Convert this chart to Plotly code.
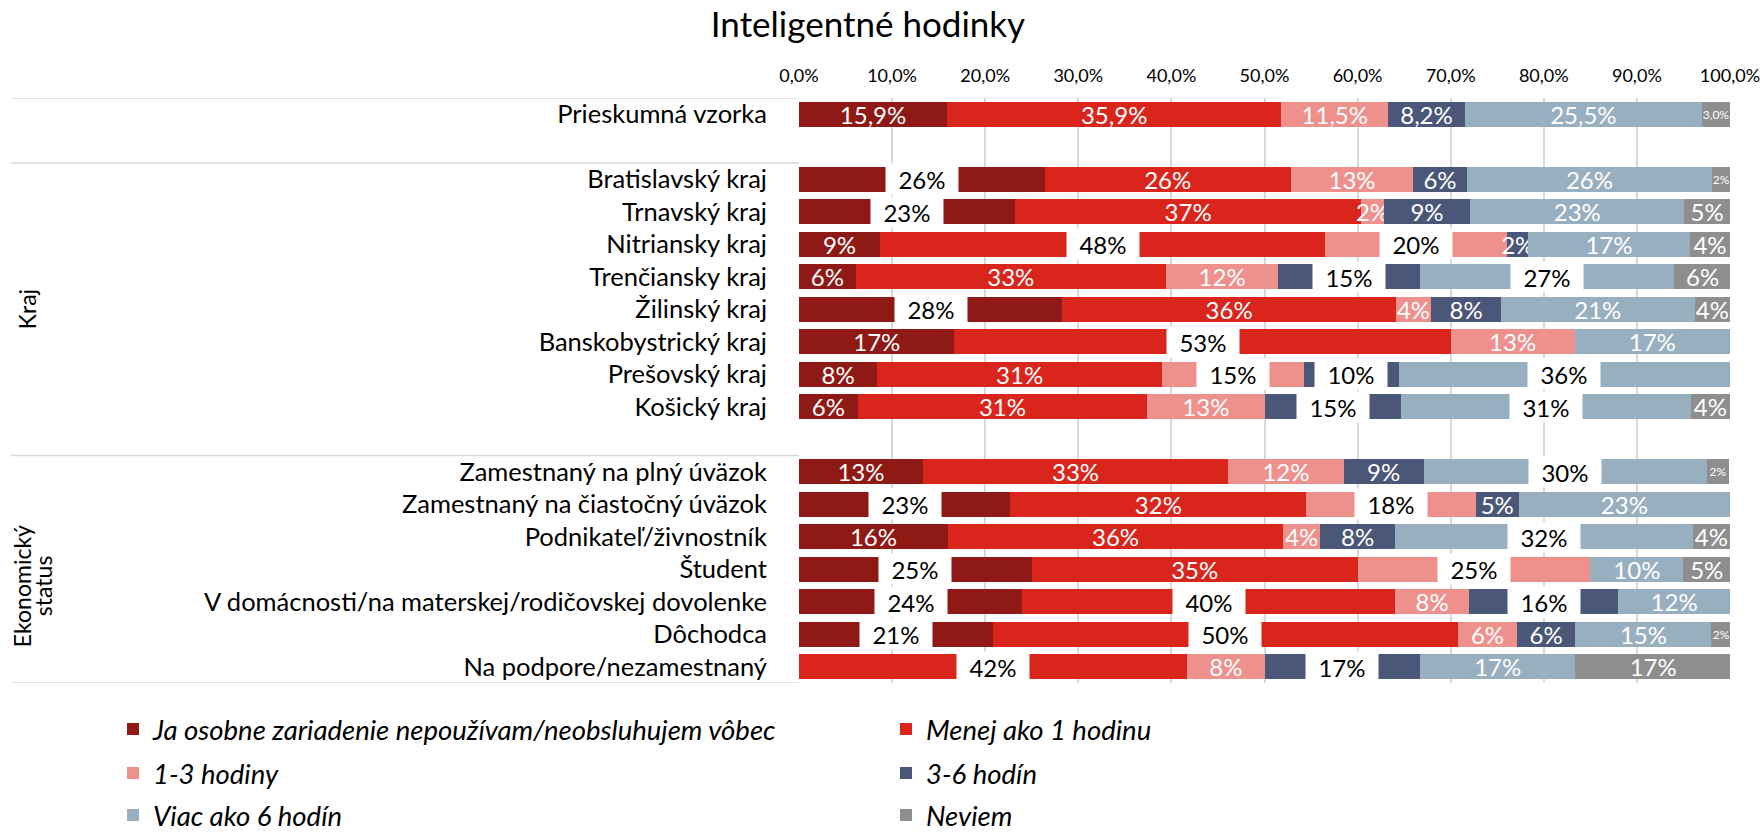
import plotly.graph_objects as go

title_text = "Inteligentné hodinky"

categories = [
    "Prieskumná vzorka", " ",
    "Bratislavský kraj", "Trnavský kraj", "Nitriansky kraj", "Trenčiansky kraj",
    "Žilinský kraj", "Banskobystrický kraj", "Prešovský kraj", "Košický kraj", "  ",
    "Zamestnaný na plný úväzok", "Zamestnaný na čiastočný úväzok", "Podnikateľ/živnostník",
    "Študent", "V domácnosti/na materskej/rodičovskej dovolenke", "Dôchodca",
    "Na podpore/nezamestnaný",
]
rows = [c for c in categories if c.strip()]

series_names = [
    "Ja osobne zariadenie nepoužívam/neobsluhujem vôbec",
    "Menej ako 1 hodinu",
    "1-3 hodiny",
    "3-6 hodín",
    "Viac ako 6 hodín",
    "Neviem",
]
nepouzivam = [15.9, 26.4, 23.2, 8.7, 6.1, 28.3, 16.7, 8.4, 6.3, 13.3, 22.7, 16.0, 25.0, 24.0, 20.8, 0.0]
menej_1h   = [35.9, 26.4, 37.2, 47.8, 33.3, 35.8, 53.3, 30.6, 31.1, 32.8, 31.8, 36.0, 35.0, 40.0, 50.0, 41.7]
hod_1_3    = [11.5, 13.2, 2.4, 19.6, 12.1, 3.8, 13.3, 15.2, 12.6, 12.4, 18.2, 4.0, 25.0, 8.0, 6.3, 8.3]
hod_3_6    = [8.2, 5.7, 9.3, 2.2, 15.2, 7.5, 0.0, 10.2, 14.7, 8.6, 4.6, 8.0, 0.0, 16.0, 6.3, 16.7]
viac_6h    = [25.5, 26.4, 23.0, 17.4, 27.3, 20.8, 16.7, 35.6, 31.1, 30.4, 22.7, 32.0, 10.0, 12.0, 14.6, 16.7]
neviem     = [3.0, 1.9, 4.9, 4.3, 6.1, 3.8, 0.0, 0.0, 4.2, 2.4, 0.0, 4.0, 5.0, 0.0, 2.1, 16.7]
series_values = [nepouzivam, menej_1h, hod_1_3, hod_3_6, viac_6h, neviem]

x_ticks = [0, 10, 20, 30, 40, 50, 60, 70, 80, 90, 100]
x_tick_labels = [f"{t:.1f}%".replace(".", ",") for t in x_ticks]

# ---- styling (kept apart from the data) ----
colors = ["#8F1915", "#DA251D", "#EE918D", "#4B5778", "#98AFBF", "#8E8E8E"]
legend_of = ["legend", "legend", "legend2", "legend2", "legend3", "legend3"]
boxed = [
    {"Bratislavský kraj", "Trnavský kraj", "Žilinský kraj", "Zamestnaný na čiastočný úväzok",
     "Študent", "V domácnosti/na materskej/rodičovskej dovolenke", "Dôchodca"},
    {"Nitriansky kraj", "Banskobystrický kraj", "V domácnosti/na materskej/rodičovskej dovolenke",
     "Dôchodca", "Na podpore/nezamestnaný"},
    {"Nitriansky kraj", "Prešovský kraj", "Zamestnaný na čiastočný úväzok", "Študent"},
    {"Trenčiansky kraj", "Prešovský kraj", "Košický kraj",
     "V domácnosti/na materskej/rodičovskej dovolenke", "Na podpore/nezamestnaný"},
    {"Trenčiansky kraj", "Prešovský kraj", "Košický kraj", "Zamestnaný na plný úväzok",
     "Podnikateľ/živnostník"},
    set(),
]
FONT = "Lato"
LBL = 24

W, H = 1762, 833
ML, MT = 799, 98
PW, PH = 931, 585
MR, MB = W - ML - PW, H - MT - PH


def px_x(x):  # figure pixel -> paper x
    return (x - ML) / PW


def px_y(y):  # figure pixel -> paper y
    return (MT + PH - y) / PH


def fmt(row, v):
    if row == "Prieskumná vzorka":
        return f"{v:.1f}%".replace(".", ",")
    return f"{v:.0f}%"


fig = go.Figure()
annotations = []
cum = [0.0] * len(rows)
for si, (name, vals) in enumerate(zip(series_names, series_values)):
    texts, sizes = [], []
    for ri, (row, v) in enumerate(zip(rows, vals)):
        if v <= 0 or row in boxed[si]:
            texts.append("")
        else:
            texts.append(fmt(row, v))
        sizes.append(12 if (si == 5 and v < 3.5) else LBL)
        if v > 0 and row in boxed[si]:
            annotations.append(dict(
                x=cum[ri] + v / 2, y=categories.index(row), xref="x", yref="y",
                text=fmt(row, v), showarrow=False, bgcolor="white",
                width=70, height=28, font=dict(family=FONT, size=LBL, color="black"),
            ))
        cum[ri] += v
    fig.add_trace(go.Bar(
        name=name, y=rows, x=vals, orientation="h",
        marker=dict(color=colors[si], line=dict(width=0)),
        text=texts, textposition="inside", insidetextanchor="middle",
        constraintext="none", textangle=0,
        textfont=dict(family=FONT, size=sizes, color="white"),
        legend=legend_of[si], hoverinfo="name+x",
    ))

# group labels on the left
grp_font = dict(family=FONT, size=23, color="black")
annotations.append(dict(x=px_x(27), y=6.0, xref="paper", yref="y", text="Kraj",
                        xanchor="center", yanchor="middle",
                        textangle=-90, showarrow=False, font=grp_font))
annotations.append(dict(x=px_x(22), y=14.52, xref="paper", yref="y", text="Ekonomický",
                        xanchor="center", yanchor="middle",
                        textangle=-90, showarrow=False, font=grp_font))
annotations.append(dict(x=px_x(43), y=14.52, xref="paper", yref="y", text="status",
                        xanchor="center", yanchor="middle",
                        textangle=-90, showarrow=False, font=grp_font))

shapes = []
for yv in [-0.5, 1.5, 10.5, 17.5]:
    shapes.append(dict(type="line", xref="paper", yref="y", x0=px_x(11), x1=0,
                       y0=yv, y1=yv, line=dict(color="#D9D9D9", width=1.5)))

legend_common = dict(orientation="h", xref="paper", yref="paper",
                     xanchor="left", yanchor="middle", entrywidth=728, entrywidthmode="pixels",
                     itemwidth=30, bgcolor="rgba(0,0,0,0)",
                     font=dict(family=FONT, size=27.5, color="black", style="italic"),
                     traceorder="normal")
LEG_X = px_x(113)

fig.update_layout(
    width=W, height=H,
    paper_bgcolor="white", plot_bgcolor="white",
    separators=", ",
    barmode="stack", bargap=0.22,
    margin=dict(l=ML, r=MR, t=MT, b=MB, autoexpand=False),
    title=dict(text=title_text, x=868 / W, xanchor="center", xref="container",
               y=1 - 25 / H, yanchor="middle", yref="container",
               font=dict(family=FONT, size=35, color="black")),
    xaxis=dict(side="top", range=[0, 100], tickvals=x_ticks, ticktext=x_tick_labels,
               showgrid=True, gridcolor="#D9D9D9", gridwidth=1.5, zeroline=False,
               showline=False, ticks="", fixedrange=True, ticklabelstandoff=11,
               ticklabeloverflow="allow",
               tickfont=dict(family=FONT, size=18, color="black")),
    yaxis=dict(type="category", categoryorder="array", categoryarray=categories,
               range=[17.5, -0.5], showgrid=False, zeroline=False, showline=False,
               ticks="", ticklabelstandoff=31,
               tickfont=dict(family=FONT, size=25.5, color="black")),
    showlegend=True,
    legend=dict(legend_common, x=LEG_X, y=px_y(729)),
    legend2=dict(legend_common, x=LEG_X, y=px_y(773)),
    legend3=dict(legend_common, x=LEG_X, y=px_y(815)),
    annotations=annotations,
    shapes=shapes,
)

fig.write_html("out.html", config={"displayModeBar": False},
               post_script="document.body.style.margin='0';")
